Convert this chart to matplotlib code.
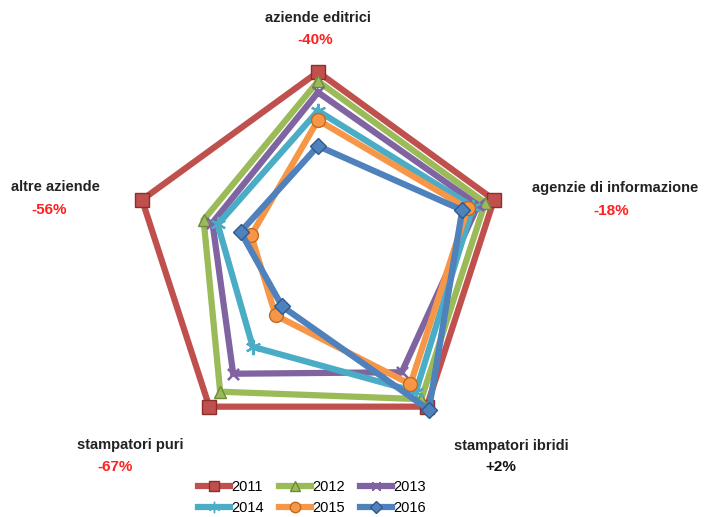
import numpy as np
import matplotlib
matplotlib.use("Agg")
import matplotlib.pyplot as plt
from matplotlib.lines import Line2D

# Index of the number of companies per category (2011 = 100)
categories = ["aziende editrici", "agenzie di informazione", "stampatori ibridi",
              "stampatori puri", "altre aziende"]
years = ["2011", "2012", "2013", "2014", "2015", "2016"]
v2011 = [100, 100, 100, 100, 100]
v2012 = [95, 95, 95, 90, 65]
v2013 = [89, 91, 77, 78, 60]
v2014 = [79, 88, 90, 60, 57]
v2015 = [74, 85, 85, 39, 38]
v2016 = [60, 82, 102, 33, 44]
series = [v2011, v2012, v2013, v2014, v2015, v2016]
changes = ["-40%", "-18%", "+2%", "-67%", "-56%"]

colors = ["#C0504D", "#9BBB59", "#8064A2", "#4BACC6", "#F79646", "#4F81BD"]
edges = ["#8C2F2C", "#6E8A3A", "#5A4478", "#2E7F96", "#C06A1E", "#2F5A8C"]
markers = ["s", "^", (4, 2, 45), (6, 2, 0), "o", "D"]
msizes = [10, 9, 11, 11, 10, 8]

FONT = "Liberation Sans"

W, H = 704, 517
fig = plt.figure(figsize=(W / 100, H / 100), dpi=100)

cx, cy, R100 = 318, 257, 185
rmax = 110
Rpx = R100 * rmax / 100
ax = fig.add_axes([(cx - Rpx) / W, (H - cy - Rpx) / H, 2 * Rpx / W, 2 * Rpx / H],
                  projection="polar")
ax.set_theta_zero_location("N")
ax.set_theta_direction(-1)
ax.set_ylim(0, rmax)
ax.axis("off")

theta = np.deg2rad(np.arange(len(categories)) * 360 / len(categories))
theta_c = np.append(theta, theta[0])

handles = []
for i, (yr, vals) in enumerate(zip(years, series)):
    vc = np.append(vals, vals[0])
    starry = i in (2, 3)
    ax.plot(theta_c, vc, color=colors[i], lw=4.5, solid_joinstyle="miter",
            zorder=2 + i, clip_on=False)
    ax.plot(theta, vals, ls="none", marker=markers[i], ms=msizes[i],
            mfc=colors[i], mec=colors[i] if starry else edges[i],
            mew=1.6 if starry else 1.0, zorder=2.5 + i, clip_on=False)
    handles.append(Line2D([], [], color=colors[i], lw=4.5, marker=markers[i],
                          ms=msizes[i] * 0.75, mfc=colors[i],
                          mec=colors[i] if starry else edges[i],
                          mew=1.0, label=yr))

# Category names and overall change
fs = 10.5
lab_pos = [(318, 18), (615, 188), (511, 446), (130, 445), (55, 187)]
chg_pos = [(315, 40), (611, 211), (501, 467), (115, 467), (49, 210)]
for name, chg, (lx, ly), (px, py) in zip(categories, changes, lab_pos, chg_pos):
    fig.text(lx / W, 1 - ly / H, name, ha="center", va="center", fontsize=fs,
             fontweight="bold", family=FONT, color="#222222")
    fig.text(px / W, 1 - py / H, chg, ha="center", va="center", fontsize=fs + 0.5,
             fontweight="bold", family=FONT,
             color="#111111" if chg.startswith("+") else "#FF2020")

# Legend filled row by row: 2011 2012 2013 / 2014 2015 2016
order = [0, 3, 1, 4, 2, 5]
fig.legend(handles=[handles[k] for k in order], loc="upper center",
           bbox_to_anchor=(312 / W, 1 - 470 / H), ncol=3, frameon=False,
           handlelength=2.2, handletextpad=0.1, columnspacing=1.0,
           labelspacing=0.5, borderpad=0.2,
           prop={"family": FONT, "size": 10.5})

fig.savefig("out.png", dpi=100)
